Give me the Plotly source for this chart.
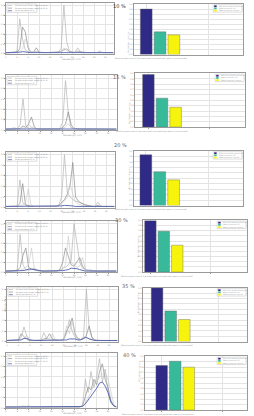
import plotly.graph_objects as go

W, H = 254, 416

# ---------------- data ----------------
x_idx = list(range(40))
pct_labels = ["10 %", "15 %", "20 %", "30 %", "35 %", "40 %"]

s10_a = [.02,.02,.02,.03,.05,.72,.30,.08,.04,.03,.03,.04,.03,.02,.02,.02,.02,.02,.03,.04,.10,1.0,.25,.05,.03,.03,.12,.04,.03,.02,.02,.02,.03,.02,.04,.02,.02,.02,.02,.02]
s10_b = [.01,.02,.02,.02,.03,.10,.55,.45,.12,.03,.03,.12,.03,.02,.02,.02,.02,.02,.02,.03,.05,.08,.10,.04,.03,.02,.05,.03,.02,.02,.02,.02,.02,.02,.03,.02,.02,.02,.02,.01]
s10_c = [.01,.01,.02,.02,.02,.04,.10,.30,.15,.03,.02,.05,.02,.02,.02,.02,.02,.01,.02,.02,.04,.12,.06,.03,.02,.02,.04,.02,.02,.02,.02,.02,.02,.02,.06,.02,.02,.01,.01,.01]
s10_m = [.02,.02,.02,.02,.02,.03,.04,.03,.02,.02,.02,.02,.02,.02,.02,.02,.02,.02,.02,.02,.02,.03,.03,.02,.02,.02,.02,.02,.02,.02,.02,.02,.02,.02,.02,.02,.02,.02,.02,.02]

s15_a = [.02,.02,.02,.03,.03,.10,.60,.08,.03,.04,.03,.02,.02,.02,.02,.02,.02,.02,.02,.03,.15,.95,.30,.04,.03,.02,.02,.02,.02,.02,.02,.02,.02,.02,.02,.02,.02,.02,.02,.02]
s15_b = [.01,.02,.02,.02,.02,.03,.08,.05,.12,.25,.06,.02,.02,.02,.02,.02,.02,.02,.02,.02,.05,.12,.35,.10,.03,.02,.02,.02,.02,.02,.02,.02,.02,.02,.02,.02,.02,.02,.02,.01]
s15_c = [.02,.02,.03,.05,.02,.02,.04,.03,.10,.06,.03,.02,.02,.02,.02,.02,.02,.02,.02,.02,.03,.06,.12,.05,.03,.02,.02,.03,.02,.02,.02,.02,.02,.02,.02,.02,.02,.02,.02,.01]
s15_m = [.02,.02,.02,.02,.02,.02,.03,.02,.02,.03,.02,.02,.02,.02,.02,.02,.02,.02,.02,.02,.02,.03,.03,.02,.02,.02,.02,.02,.02,.02,.02,.02,.02,.02,.02,.02,.02,.02,.02,.02]

s20_a = [.02,.02,.02,.02,.03,.52,.10,.04,.03,.02,.02,.02,.02,.02,.02,.02,.02,.02,.02,.05,.20,1.0,.30,.20,.15,.12,.10,.08,.06,.04,.03,.02,.02,.10,.03,.02,.02,.02,.02,.02]
s20_b = [.02,.02,.02,.02,.02,.08,.45,.06,.03,.02,.02,.02,.02,.02,.02,.02,.02,.02,.02,.04,.10,.15,.25,.40,.85,.20,.12,.08,.05,.04,.03,.02,.02,.04,.02,.02,.02,.02,.02,.02]
s20_c = [.01,.02,.02,.02,.02,.03,.05,.08,.35,.05,.02,.02,.02,.02,.02,.02,.02,.02,.02,.03,.08,.12,.20,.45,.25,.10,.06,.04,.03,.02,.02,.02,.02,.03,.02,.02,.02,.02,.02,.01]
s20_m = [.02,.02,.02,.02,.02,.02,.03,.02,.02,.02,.02,.02,.02,.02,.02,.02,.02,.02,.02,.02,.03,.04,.04,.03,.03,.02,.02,.02,.02,.02,.02,.02,.02,.02,.02,.02,.02,.02,.02,.02]

s30_a = [.02,.02,.02,.03,.05,.78,.15,.05,.04,.05,.08,.04,.03,.02,.02,.04,.02,.02,.02,.03,.08,.10,.15,.25,1.0,.60,.20,.08,.05,.03,.02,.02,.02,.02,.02,.02,.02,.02,.02,.02]
s30_b = [.02,.02,.02,.02,.03,.10,.35,.50,.10,.06,.04,.03,.02,.02,.02,.03,.02,.02,.02,.05,.20,.50,.30,.15,.12,.20,.30,.12,.05,.04,.03,.02,.02,.02,.02,.02,.02,.02,.02,.02]
s30_c = [.01,.02,.02,.02,.02,.04,.06,.10,.15,.50,.08,.03,.02,.02,.02,.02,.02,.02,.02,.03,.06,.15,.75,.20,.15,.10,.12,.30,.06,.03,.05,.02,.02,.02,.02,.02,.02,.02,.02,.01]
s30_m = [.02,.02,.02,.02,.02,.02,.03,.04,.06,.06,.05,.03,.02,.02,.02,.02,.02,.02,.02,.02,.03,.04,.05,.08,.08,.07,.05,.03,.02,.02,.02,.02,.02,.02,.02,.02,.02,.02,.02,.02]

s35_a = [.02,.02,.02,.02,.03,.08,.28,.10,.03,.02,.02,.02,.03,.17,.05,.04,.03,.02,.02,.02,.04,.15,.42,.20,.08,.05,.04,.08,1.0,.25,.06,.03,.02,.02,.02,.02,.02,.02,.02,.02]
s35_b = [.02,.02,.02,.02,.03,.15,.10,.04,.02,.02,.02,.02,.02,.05,.06,.15,.05,.03,.02,.02,.05,.20,.30,.45,.15,.06,.04,.05,.12,.30,.08,.03,.02,.02,.02,.02,.02,.02,.02,.02]
s35_c = [.01,.02,.02,.02,.02,.04,.06,.12,.04,.02,.02,.02,.02,.03,.04,.06,.15,.04,.02,.02,.04,.30,.15,.40,.10,.05,.04,.10,.08,.05,.03,.02,.02,.02,.02,.02,.02,.02,.02,.01]
s35_m = [.02,.02,.02,.02,.02,.03,.06,.06,.03,.02,.02,.02,.02,.02,.03,.03,.02,.02,.02,.02,.02,.03,.05,.05,.05,.03,.03,.06,.08,.05,.03,.02,.02,.02,.02,.02,.02,.02,.02,.02]

s40_a = [.02,.02,.02,.02,.02,.02,.04,.03,.04,.02,.02,.02,.02,.02,.03,.02,.02,.02,.02,.02,.02,.02,.02,.02,.02,.02,.02,.05,.55,.30,.70,.40,.60,.95,.50,.75,.30,.10,.04,.02]
s40_b = [.02,.02,.02,.02,.02,.02,.03,.03,.03,.02,.02,.02,.02,.02,.02,.02,.02,.02,.02,.02,.02,.02,.02,.02,.02,.02,.02,.04,.20,.40,.35,.55,.45,.70,.85,.55,.40,.15,.05,.02]
s40_c = [.02,.02,.02,.02,.02,.02,.02,.02,.02,.02,.02,.02,.02,.02,.02,.02,.02,.02,.02,.02,.02,.02,.02,.02,.02,.02,.02,.03,.10,.20,.30,.45,.50,.60,.65,.70,.55,.30,.08,.02]
s40_m = [.02,.02,.02,.02,.02,.02,.03,.02,.03,.02,.02,.02,.02,.02,.02,.02,.02,.02,.02,.02,.02,.02,.02,.02,.02,.02,.02,.03,.08,.15,.22,.30,.38,.48,.50,.42,.30,.12,.04,.02]

line_series = [
    [s10_a, s10_b, s10_c, s10_m],
    [s15_a, s15_b, s15_c, s15_m],
    [s20_a, s20_b, s20_c, s20_m],
    [s30_a, s30_b, s30_c, s30_m],
    [s35_a, s35_b, s35_c, s35_m],
    [s40_a, s40_b, s40_c, s40_m],
]
line_names = ["Measured spectrum, sample A", "Measured spectrum, sample B",
              "Measured spectrum, sample C", "Mean spectrum"]

bar_names = ["Reference sample (measured)", "Model prediction (fit)", "Model prediction (scaled)"]
bar_cats = [0, 1, 2]
bar_10 = [0.90, 0.45, 0.39]
bar_15 = [0.98, 0.54, 0.37]
bar_20 = [0.93, 0.62, 0.47]
bar_30 = [1.00, 0.79, 0.52]
bar_35 = [1.00, 0.57, 0.41]
bar_40 = [0.83, 0.91, 0.80]
bar_values = [bar_10, bar_15, bar_20, bar_30, bar_35, bar_40]

# ---------------- layout geometry (pixels: left, right, top, bottom) ----------------
line_boxes = [(5, 113, 2, 53), (5, 116, 75, 130), (5, 114, 152, 208),
              (5, 116, 222, 273), (6, 117, 288, 343), (5, 116, 355, 410)]
bar_boxes = [(134, 243, 3, 54), (135, 245, 73, 127), (134, 243, 151, 206),
             (143, 247, 221, 273), (143, 247, 289, 343), (145, 247, 358, 412)]
bar_xr = [(-0.85, 7.0), (-0.95, 7.1), (-0.82, 7.0), (-0.52, 7.2), (-1.0, 6.6), (-1.2, 6.3)]
pct_pos = [(127, 5), (128, 77), (129, 145), (130, 221), (137, 287), (138, 357)]

line_colors = ["#b4b4b4", "#8c8c8c", "#cdcdcd", "#4d5fae"]
bar_colors = ["#2f2a86", "#38b99a", "#f6f40c"]

def fx(p):
    return p / W

def fy(p):
    return 1 - p / H

fig = go.Figure()
layout = dict(width=W, height=H, margin=dict(l=0, r=0, t=0, b=0),
              paper_bgcolor="white", plot_bgcolor="white", showlegend=False,
              font=dict(family="DejaVu Sans", size=3, color="#777"))
shapes = []
annotations = []

axis_common = dict(showline=True, mirror=True, linecolor="#9a9a9a", linewidth=0.6,
                   gridcolor="#e4e4e4", gridwidth=0.5, zeroline=False,
                   ticks="outside", ticklen=0.8, tickwidth=0.4, tickcolor="#999",
                   tickfont=dict(size=2, color="#888"))

for i in range(6):
    la, lb = 2 * i + 1, 2 * i + 2
    # line chart
    L, R, T, B = line_boxes[i]
    for k, ser in enumerate(line_series[i]):
        fig.add_trace(go.Scatter(x=x_idx, y=ser, mode="lines", name=line_names[k],
                                 line=dict(color=line_colors[k], width=0.7 if k < 3 else 0.9),
                                 xaxis=f"x{la}", yaxis=f"y{la}"))
    layout[f"xaxis{la}"] = dict(domain=[fx(L), fx(R)], range=[0, 39], dtick=4,
                                anchor=f"y{la}", **axis_common)
    layout[f"yaxis{la}"] = dict(domain=[fy(B), fy(T)], range=[0, 1.05], dtick=0.2,
                                tickformat=".1f", anchor=f"x{la}", **axis_common)
    # line legend (manual)
    nleg = 4 if i == 5 else 3
    step = 2.6
    shapes.append(dict(type="rect", xref="paper", yref="paper",
                       x0=fx(L + 1), x1=fx(L + 31), y0=fy(T + 1.6 + step * nleg), y1=fy(T + 1),
                       line=dict(color="#aaa", width=0.4), fillcolor="white"))
    idxs = [0, 1, 3] if nleg == 3 else [0, 1, 2, 3]
    for j, k in enumerate(idxs):
        yy = T + 2.6 + step * j
        shapes.append(dict(type="line", xref="paper", yref="paper",
                           x0=fx(L + 2), x1=fx(L + 6), y0=fy(yy), y1=fy(yy),
                           line=dict(color=line_colors[k], width=0.7)))
        annotations.append(dict(xref="paper", yref="paper", x=fx(L + 7), y=fy(yy),
                                text=line_names[k] + " " + pct_labels[i], showarrow=False,
                                xanchor="left", yanchor="middle",
                                font=dict(size=1.8, color="#888")))
    annotations.append(dict(xref="paper", yref="paper", x=fx((L + R) / 2), y=fy(B + 5.5),
                            text="Wavelength (nm)", showarrow=False, yanchor="middle",
                            font=dict(size=2.2, color="#999")))
    annotations.append(dict(xref="paper", yref="paper", x=fx(1.2), y=fy((T + B) / 2),
                            text="Intensity (a.u.)", showarrow=False, textangle=-90,
                            font=dict(size=2.2, color="#999")))

    # bar chart
    L, R, T, B = bar_boxes[i]
    for k in range(3):
        fig.add_trace(go.Bar(x=[bar_cats[k]], y=[bar_values[i][k]], name=bar_names[k],
                             marker=dict(color=bar_colors[k], line=dict(color="#666", width=0.4)),
                             width=0.85, xaxis=f"x{lb}", yaxis=f"y{lb}"))
    layout[f"xaxis{lb}"] = dict(domain=[fx(L), fx(R)], range=list(bar_xr[i]), showticklabels=False,
                                showgrid=True, dtick=4.5, anchor=f"y{lb}",
                                **{k: v for k, v in axis_common.items() if k not in ("tickfont",)})
    layout[f"yaxis{lb}"] = dict(domain=[fy(B), fy(T)], range=[0, 1.0], dtick=0.1,
                                tickformat=".1f", anchor=f"x{lb}", **axis_common)
    # bar legend (manual)
    shapes.append(dict(type="rect", xref="paper", yref="paper",
                       x0=fx(R - 30), x1=fx(R - 1), y0=fy(T + 8.2), y1=fy(T + 0.8),
                       line=dict(color="#aaa", width=0.4), fillcolor="white"))
    for k in range(3):
        yy = T + 2.3 + 2.2 * k
        shapes.append(dict(type="rect", xref="paper", yref="paper",
                           x0=fx(R - 29), x1=fx(R - 26.5), y0=fy(yy + 0.9), y1=fy(yy - 0.9),
                           line=dict(width=0), fillcolor=bar_colors[k]))
        annotations.append(dict(xref="paper", yref="paper", x=fx(R - 26), y=fy(yy),
                                text=bar_names[k], showarrow=False,
                                xanchor="left", yanchor="middle",
                                font=dict(size=1.6, color="#888")))
    annotations.append(dict(xref="paper", yref="paper", x=fx((L + R) / 2), y=fy(B + 4),
                            text="Relative peak area of the measured and predicted spectra (normalised)",
                            showarrow=False, yanchor="middle",
                            font=dict(size=2.0, color="#999")))
    annotations.append(dict(xref="paper", yref="paper", x=fx(L - 5.5), y=fy((T + B) / 2),
                            text="Normalised intensity", showarrow=False, textangle=-90,
                            font=dict(size=2.0, color="#999")))
    # percent label
    px_, py_ = pct_pos[i]
    annotations.append(dict(xref="paper", yref="paper", x=fx(px_), y=fy(py_),
                            text=pct_labels[i], showarrow=False, xanchor="right", yanchor="middle",
                            font=dict(size=5, color="#333" if i == 0 else "#666")))

layout["shapes"] = shapes
layout["annotations"] = annotations
layout["bargap"] = 0.1
fig.update_layout(**layout)
fig.write_html("out.html")
